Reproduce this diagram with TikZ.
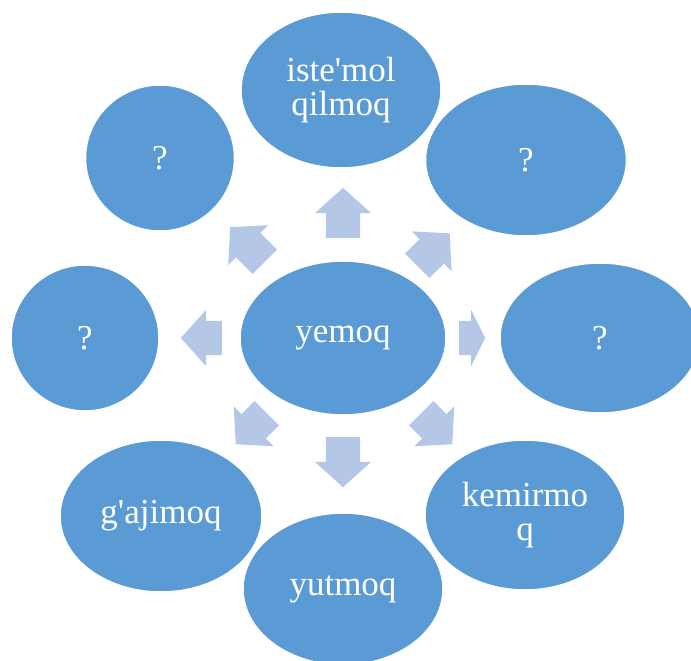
\documentclass[tikz,border=0pt]{standalone}
\usepackage{fontspec}
\setmainfont{Liberation Serif}
\usetikzlibrary{shapes.geometric,shapes.arrows}

\definecolor{bubblefill}{HTML}{5B9BD5}
\definecolor{arrowfill}{HTML}{B4C7E7}

\tikzset{
  bubble/.style={ellipse, fill=bubblefill, draw=white, line width=1.5pt, text=white,
    inner sep=0pt, align=center, font=\fontsize{35}{34}\selectfont},
  blockarrow/.style={single arrow, fill=arrowfill, draw=none, inner xsep=0pt, inner ysep=17pt,
    minimum width=56pt, single arrow head extend=11pt, single arrow tip angle=96,
    anchor=tail}
}

\begin{document}
\begin{tikzpicture}[x=1pt,y=1pt]
        % \draw[help lines, gray!50, very thin] (0,0) grid[step=50] (691,-661);
        \clip (0,0) rectangle (691,-661);
        \useasboundingbox (0,0) rectangle (691,-661);

        % outer bubbles
        \node[bubble, minimum width=200pt, minimum height=156pt] (top) at (341,-90) {iste\textquotesingle mol\\qilmoq};
        \node[bubble, minimum width=201pt, minimum height=152pt] (topright) at (526,-160) {?};
        \node[bubble, minimum width=200pt, minimum height=150pt] (right) at (600,-338) {?};
        \node[bubble, minimum width=200pt, minimum height=150pt] (botright) at (525,-515) {kemirmo\\q};
        \node[bubble, minimum width=202pt, minimum height=152pt] (botleft) at (161,-516) {g\textquotesingle ajimoq};
        \node[bubble, minimum width=148pt, minimum height=146pt] (left) at (85,-338) {?};
        \node[bubble, minimum width=149pt, minimum height=146pt] (topleft) at (160,-158) {?};
        \node[bubble, minimum width=200pt, minimum height=152pt] (bottom) at (343,-589) {yutmoq};

        % centre
        \node[bubble, minimum width=206pt, minimum height=154pt] (mid) at (343,-338) {yemoq};

        % arrows out of the centre
        \node[blockarrow, rotate=90, minimum height=50pt] (aup) at (343,-238) {};
        \node[blockarrow, rotate=45, minimum height=46pt] (aur) at (417,-266) {};
        \node[blockarrow, rotate=0, minimum height=26pt, single arrow tip angle=127] (art) at (459,-338) {};
        \node[blockarrow, rotate=-45, minimum height=44pt] (adr) at (421,-413) {};
        \node[blockarrow, rotate=-90, minimum height=50pt] (adn) at (343,-437) {};
        \node[blockarrow, rotate=-135, minimum height=44pt] (adl) at (267,-413) {};
        \node[blockarrow, rotate=180, minimum height=41pt] (alf) at (222,-338) {};
        \node[blockarrow, rotate=135, minimum height=49pt] (aul) at (265,-262) {};
      \end{tikzpicture}
\end{document}
